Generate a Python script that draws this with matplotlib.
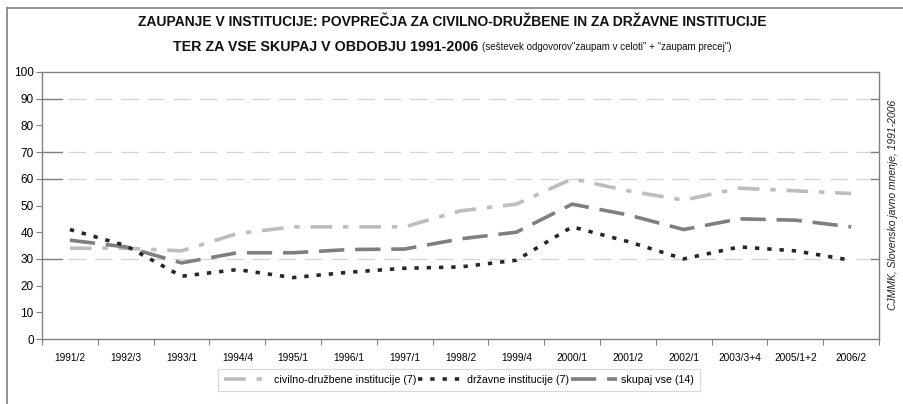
import matplotlib
matplotlib.use("Agg")
import matplotlib.pyplot as plt
from matplotlib.lines import Line2D
import numpy as np

plt.rcParams['font.family'] = ['Liberation Sans', 'DejaVu Sans']

categories = ["1991/2", "1992/3", "1993/1", "1994/4", "1995/1", "1996/1", "1997/1",
              "1998/2", "1999/4", "2000/1", "2001/2", "2002/1", "2003/3+4",
              "2005/1+2", "2006/2"]
civilno = [34, 34, 33, 39.5, 42, 42, 42, 48, 50.5, 60, 55.5, 52, 56.5, 55.5, 54.5]
drzavne = [41, 35, 23.5, 26, 23, 25, 26.5, 27, 29.5, 42, 36.5, 30, 34.5, 33, 29.5]
skupaj = [37, 34.5, 28.5, 32.3, 32.3, 33.5, 33.7, 37.5, 40, 50.5, 46.5, 41, 45, 44.5, 42]
labels = ["civilno-družbene institucije (7)", "državne institucije (7)", "skupaj vse (14)"]
yticks = [0, 10, 20, 30, 40, 50, 60, 70, 80, 90, 100]
grid_values = [30, 60, 70, 90]

W, H = 904, 404
fig = plt.figure(figsize=(W / 100, H / 100), dpi=100)
fig.patch.set_facecolor("white")

# partial frame (top and left)
fig.add_artist(Line2D([7 / W, 7 / W], [0, 1 - 8 / H], color="#808080", lw=1.2, transform=fig.transFigure))
fig.add_artist(Line2D([7 / W, 1], [1 - 8 / H, 1 - 8 / H], color="#808080", lw=1.2, transform=fig.transFigure))

left, right, top, bottom = 42, 879, 72, 339
ax = fig.add_axes([left / W, 1 - bottom / H, (right - left) / W, (bottom - top) / H])

x = np.arange(len(categories))
ax.plot(x, civilno, color="#bdbdbd", lw=2.6, linestyle=(0, (6, 3, 1.5, 3)), label=labels[0], zorder=3)
ax.plot(x, drzavne, color="#262626", lw=2.6, linestyle=(0, (1.2, 2.2)), label=labels[1], zorder=4)
ax.plot(x, skupaj, color="#7f7f7f", lw=2.6, linestyle=(0, (7, 3)), label=labels[2], zorder=3)

ax.set_xlim(-0.5, len(categories) - 0.5)
ax.set_ylim(0, 100)
ax.set_yticks(yticks)
ax.set_yticklabels([str(v) for v in yticks], fontsize=8.5)
ax.set_xticks(np.arange(len(categories) + 1) - 0.5, minor=False)
ax.set_xticklabels([""] * (len(categories) + 1))
ax.set_xticks(x, minor=True)
ax.set_xticklabels(categories, minor=True, fontsize=7.3)
ax.tick_params(axis="x", which="minor", length=0, pad=10)
ax.tick_params(axis="x", which="major", length=4, direction="out", color="#808080")
ax.tick_params(axis="y", length=4, direction="out", color="#808080", pad=2)

for v in grid_values:
    ax.axhline(v, color="#d4d4d4", lw=0.9, linestyle=(0, (14, 7)), zorder=1)
    ax.plot([0, 0.024], [v, v], transform=ax.get_yaxis_transform(), color="#808080", lw=1.0, zorder=2)
    ax.plot([0.99, 1.0], [v, v], transform=ax.get_yaxis_transform(), color="#808080", lw=1.0, zorder=2)

for s in ax.spines.values():
    s.set_color("#808080")
    s.set_linewidth(1.0)

leg = fig.legend(loc="center", bbox_to_anchor=(459 / W, 1 - 380 / H), ncol=3, fontsize=7.7,
                 frameon=True, fancybox=False, handlelength=4.3, handletextpad=0.3,
                 columnspacing=0.2, borderpad=0.6)
leg.get_frame().set_edgecolor("#d0d0d0")
leg.get_frame().set_linewidth(0.8)

fig.text(893 / W, 1 - 205 / H, "CJMMK, Slovensko javno mnenje, 1991-2006", rotation=90,
         fontsize=7.5, style="italic", ha="center", va="center", color="#222222")

fig.text(452 / W, 1 - 22 / H, "ZAUPANJE V INSTITUCIJE: POVPREČJA ZA CIVILNO-DRUŽBENE IN ZA DRŽAVNE INSTITUCIJE",
         fontsize=10, fontweight="bold", ha="center", va="center", color="#111111")

t1 = fig.text(0, 1 - 47 / H, "TER ZA VSE SKUPAJ V OBDOBJU 1991-2006 ", fontsize=10.3, fontweight="bold",
              ha="left", va="center", color="#111111")
t2 = fig.text(0, 1 - 47.5 / H, "(seštevek odgovorov\"zaupam v celoti\" + \"zaupam precej\")", fontsize=7,
              ha="left", va="center", color="#111111")
fig.canvas.draw()
r = fig.canvas.get_renderer()
w1 = t1.get_window_extent(r).width
w2 = t2.get_window_extent(r).width
start = 452 - (w1 + w2) / 2
t1.set_x(start / W)
t2.set_x((start + w1) / W)

fig.savefig("out.png", dpi=100, facecolor="white")
